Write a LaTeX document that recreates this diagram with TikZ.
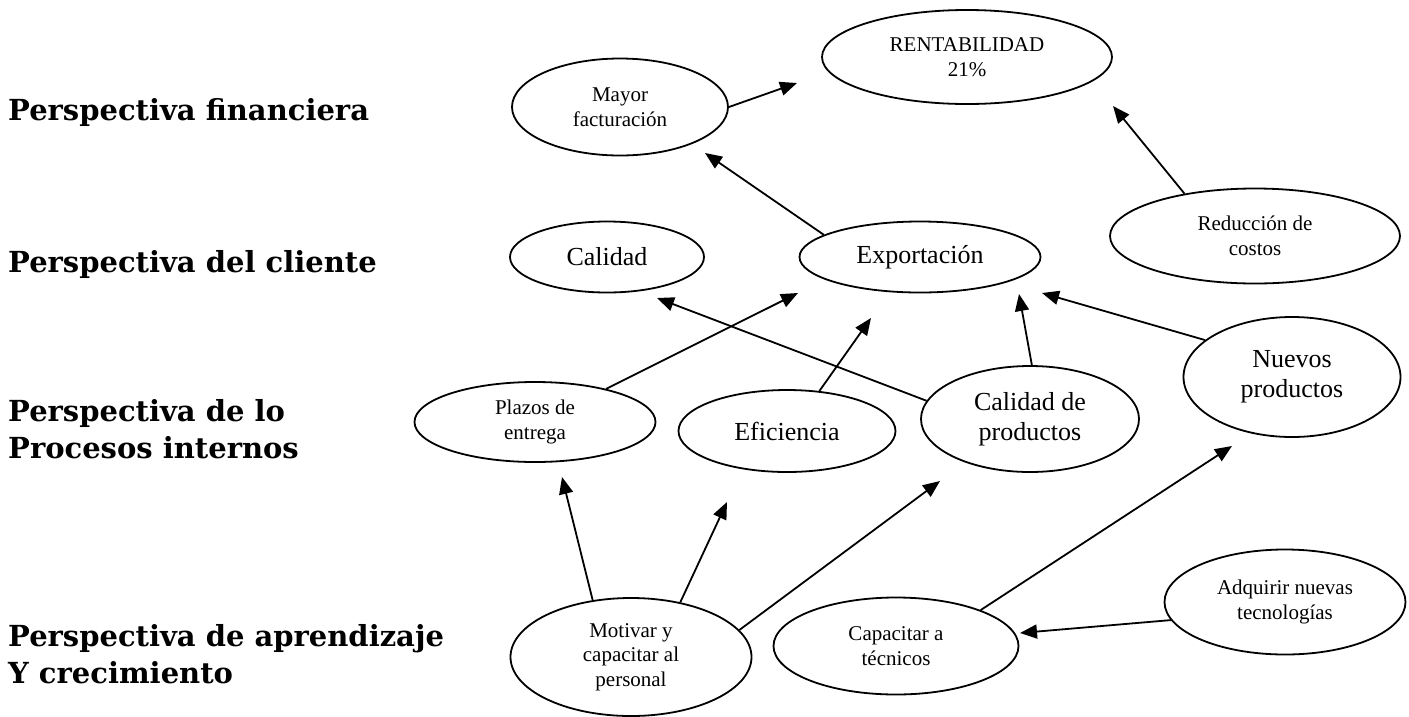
\documentclass[tikz,border=0pt]{standalone}
\usepackage{fontspec}
\setmainfont{Liberation Serif}
\newfontfamily\titfont{DejaVu Serif}
\usetikzlibrary{arrows.meta,shapes.geometric}

\begin{document}
\begin{tikzpicture}[x=1pt,y=-1pt,
  bubble/.style={draw=black,line width=1.8pt,ellipse,inner sep=0pt,align=center},
  chico/.style={font=\fontsize{21}{24.5}\selectfont},
  grande/.style={font=\fontsize{26}{30}\selectfont},
  tit/.style={anchor=base west,align=left,inner sep=0pt,font=\titfont\bfseries\fontsize{29}{37}\selectfont},
  flecha/.style={line width=1.8pt,-{Triangle[length=17pt,width=14pt]}}]
\useasboundingbox (0,0) rectangle (1409,716);
\node[tit] (fin) at (8,120) {Perspectiva financiera};
\node[tit] (cli) at (8,272) {Perspectiva del cliente};
\node[tit] (pro) at (8,458) {Perspectiva de lo\\Procesos internos};
\node[tit] (apr) at (8,683) {Perspectiva de aprendizaje\\Y crecimiento};
\node[bubble,chico,minimum width=290pt,minimum height=94pt] (rent) at (967,57) {RENTABILIDAD\\21\%};
\node[bubble,chico,minimum width=216pt,minimum height=97pt] (mayor) at (620,107) {Mayor\\facturación};
\node[bubble,chico,minimum width=290pt,minimum height=95pt] (reduc) at (1255,236) {Reducción de\\costos};
\node[bubble,grande,minimum width=194pt,minimum height=71pt] (calidad) at (607,257) {Calidad};
\node[bubble,grande,minimum width=241pt,minimum height=71pt] (export) at (920,257) {Exportación};
\node[bubble,grande,minimum width=217pt,minimum height=120pt] (nuevos) at (1292,377) {Nuevos\\productos};
\node[bubble,grande,minimum width=218pt,minimum height=106pt] (calprod) at (1030,419) {Calidad de\\productos};
\node[bubble,grande,minimum width=217pt,minimum height=82pt] (efic) at (787,431) {Eficiencia};
\node[bubble,chico,minimum width=241pt,minimum height=80pt] (plazos) at (535,422) {Plazos de\\entrega};
\node[bubble,chico,minimum width=241pt,minimum height=118pt] (motivar) at (631,657) {Motivar y\\capacitar al\\personal};
\node[bubble,chico,minimum width=245pt,minimum height=97pt] (capac) at (896,646) {Capacitar a\\técnicos};
\node[bubble,chico,minimum width=241pt,minimum height=105pt] (adq) at (1285,602) {Adquirir nuevas\\tecnologías};
\coordinate (aRent) at (797,83);
\coordinate (aMayor) at (705,153);
\coordinate (aRent2) at (1113,106);
\coordinate (aExp1) at (798,293);
\coordinate (aCal) at (657,298);
\coordinate (aExp2) at (871,318);
\coordinate (aExp3) at (1019,294);
\coordinate (aExp4) at (1042,293);
\coordinate (aPlazos) at (562,477);
\coordinate (aEfic) at (727,502);
\coordinate (aCalprod) at (940,481);
\coordinate (aNuevos) at (1232,446);
\coordinate (aCapac) at (1020,633);
\draw[flecha] (mayor.east) -- (aRent);
\draw[flecha] (export.167) -- (aMayor);
\draw[flecha] (reduc.149) -- (aRent2);
\draw[flecha] (plazos.25) -- (aExp1);
\draw[flecha] (calprod.170) -- (aCal);
\draw[flecha] (efic.51) -- (aExp2);
\draw[flecha] (calprod.88) -- (aExp3);
\draw[flecha] (nuevos.157) -- (aExp4);
\draw[flecha] (motivar.124) -- (aPlazos);
\draw[flecha] (motivar.48) -- (aEfic);
\draw[flecha] (motivar.14) -- (aCalprod);
\draw[flecha] (capac.23) -- (aNuevos);
\draw[flecha] (adq.-171) -- (aCapac);
\end{tikzpicture}
\end{document}
